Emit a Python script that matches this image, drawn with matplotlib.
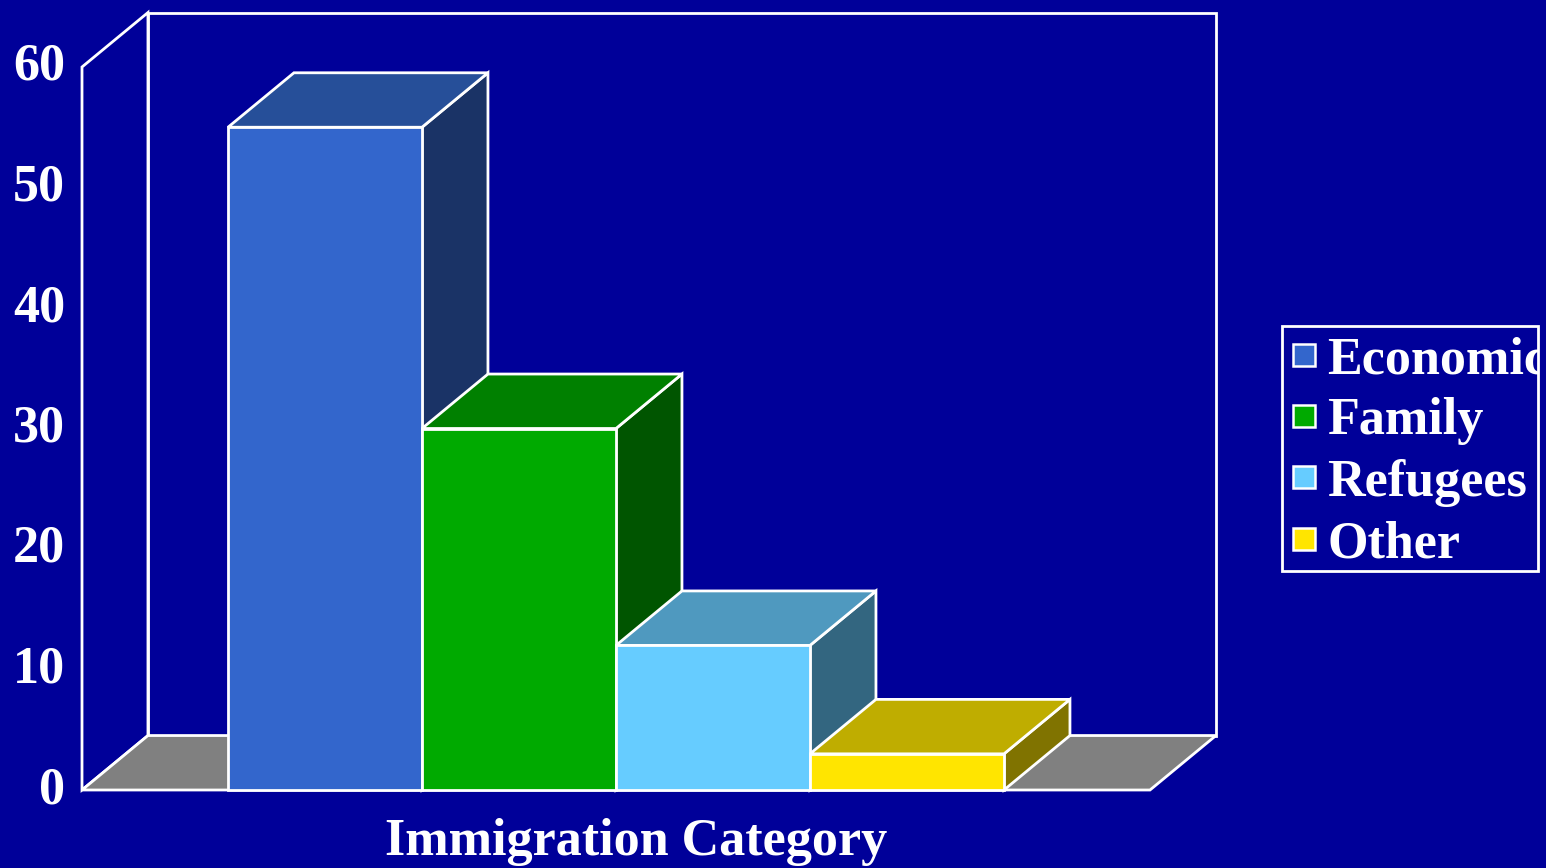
import matplotlib.pyplot as plt
from matplotlib.patches import Polygon, Rectangle

# data
categories = ["Economic", "Family", "Refugees", "Other"]
values = [55, 30, 12, 3]
y_ticks = [0, 10, 20, 30, 40, 50, 60]

# styles
bg = "#000099"
front_colors = ["#3366CC", "#00AA00", "#66CCFF", "#FFE500"]
top_colors = ["#264F99", "#008000", "#4F99BF", "#BFAD00"]
side_colors = ["#1A3366", "#005500", "#336680", "#807300"]
font = "Liberation Serif"
fsize = 37.5

W, H = 1546, 868
fig = plt.figure(figsize=(W / 100, H / 100), dpi=100, facecolor=bg)

# front plane of the chart box, in pixels
left, right, bottom, top = 82, 1150, 790, 67
ax = fig.add_axes([left / W, 1 - bottom / H, (right - left) / W, (bottom - top) / H])
ax.set_facecolor("none")

gap = 0.7526          # space between wall and first bar, in bar widths
xmax = 2 * gap + len(values)
ax.set_xlim(0, xmax)
ax.set_ylim(0, 60)
dx, dy = 0.34, 4.52   # depth offset in data units

ew = 2.0
edge = "white"

def poly(pts, fc, z):
    ax.add_patch(Polygon(pts, closed=True, facecolor=fc, edgecolor=edge,
                         linewidth=ew, clip_on=False, zorder=z, joinstyle="miter"))

# back wall, left wall, floor
poly([(dx, dy), (xmax + dx, dy), (xmax + dx, 60 + dy), (dx, 60 + dy)], bg, 1)
poly([(0, 0), (dx, dy), (dx, 60 + dy), (0, 60)], bg, 1)
poly([(0, 0), (xmax, 0), (xmax + dx, dy), (dx, dy)], "#808080", 2)

# bars
for i, v in enumerate(values):
    x0 = gap + i
    x1 = x0 + 1
    z = 3 + i
    poly([(x1, 0), (x1 + dx, dy), (x1 + dx, v + dy), (x1, v)], side_colors[i], z)
    poly([(x0, v), (x1, v), (x1 + dx, v + dy), (x0 + dx, v + dy)], top_colors[i], z)
    poly([(x0, 0), (x1, 0), (x1, v), (x0, v)], front_colors[i], z)

# axes ticks and label
for s in ax.spines.values():
    s.set_visible(False)
ax.set_xticks([])
ax.set_yticks(y_ticks)
ax.set_yticklabels([str(t) for t in y_ticks], fontfamily=font, fontweight="bold",
                   va="center")
ax.tick_params(axis="y", length=0, pad=12, labelsize=fsize, labelcolor="white")
ax.set_xlabel("Immigration Category", fontfamily=font, fontweight="bold",
              fontsize=fsize, color="white", va="center")
ax.xaxis.set_label_coords((636 - left) / (right - left), -52 / (bottom - top))

# legend drawn by hand so the long label gets clipped by the box
lx0, lx1, ly0, ly1 = 1282, 1538, 326, 571
box = Rectangle((lx0 / W, 1 - ly1 / H), (lx1 - lx0) / W, (ly1 - ly0) / H,
                transform=fig.transFigure, facecolor=bg, edgecolor=edge,
                linewidth=ew, zorder=10)
fig.patches.append(box)
entry_y = [355, 416, 477, 539]
sq = 22
for name, c, yc in zip(categories, front_colors, entry_y):
    fig.patches.append(Rectangle((1293 / W, 1 - (yc + sq / 2) / H), sq / W, sq / H,
                                 transform=fig.transFigure, facecolor=c,
                                 edgecolor=edge, linewidth=1.8, zorder=11))
    t = fig.text(1327 / W, 1 - yc / H, name, fontfamily=font, fontweight="bold",
                 fontsize=fsize, color="white", va="center_baseline", ha="left", zorder=12)
    t.set_clip_path(box)

fig.savefig("out.png", dpi=100, facecolor=bg)
